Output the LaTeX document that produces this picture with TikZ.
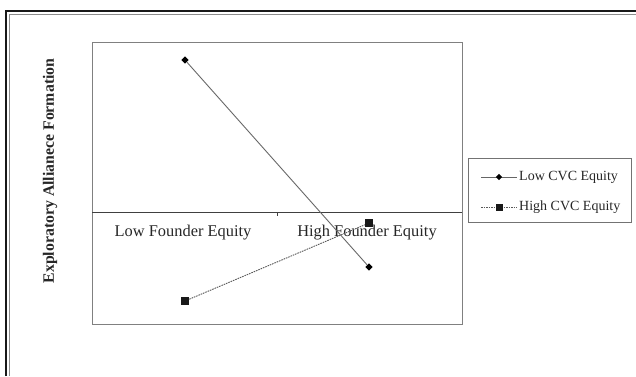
\documentclass[tikz,border=0pt]{standalone}
\usepackage{fontspec}
\setmainfont{Liberation Serif}
\usetikzlibrary{shapes.geometric}
\begin{document}
\begin{tikzpicture}[x=1pt,y=-1pt,
  dia/.style={diamond,fill=black,inner sep=0pt,minimum size=7.5pt},
  sq/.style={rectangle,fill=black!90,inner sep=0pt,minimum size=8pt},
  axlab/.style={font=\fontsize{16.4}{18}\selectfont,text=black!85,inner sep=0pt},
  leglab/.style={font=\fontsize{14}{16}\selectfont,text=black!85,inner sep=0pt,anchor=west},
  lowline/.style={draw=black!60,line width=0.9pt},
  highline/.style={draw=black!65,line width=0.9pt,dash pattern=on 1.6pt off 0.9pt}]
\useasboundingbox (0,0) rectangle (636,376);
% outer frame
\draw[line width=2.6pt,black!90] (6,376) -- (6,11) -- (636,11);
\draw[line width=0.9pt,black!45] (9.5,376) -- (9.5,14.5) -- (636,14.5);
% plot box
\draw[black!50,line width=0.9pt] (92,42) rectangle (462,324);
% axis
\draw[black!75,line width=0.9pt] (92,212) -- (462,212);
\draw[black!75,line width=0.8pt] (277,212) -- (277,216);
% axis labels
\node[axlab] (lfe) at (183,233) {Low Founder Equity};
\node[axlab] (hfe) at (367,233) {High Founder Equity};
% y label
\node[rotate=90,font=\bfseries\fontsize{15.8}{18}\selectfont,text=black!85,inner sep=0pt] (ylab) at (50,171) {Exploratory Allianece Formation};
% data
\node[dia] (l1) at (185,60) {};
\node[dia] (l2) at (369,267) {};
\node[sq] (h1) at (185,301) {};
\node[sq] (h2) at (369,223) {};
\draw[lowline] (l1) -- (l2);
\draw[highline] (h1) -- (h2);
% legend
\draw[black!55,line width=0.9pt] (468,158) rectangle (631,222);
\coordinate (a1) at (481,177);
\coordinate (b1) at (517,177);
\coordinate (a2) at (481,207);
\coordinate (b2) at (517,207);
\draw[lowline] (a1) -- (b1);
\draw[highline] (a2) -- (b2);
\node[dia,minimum size=6.5pt] (ld) at (499,177) {};
\node[sq,minimum size=7pt] (hd) at (499,207) {};
\node[leglab] (lt) at (519,177) {Low CVC Equity};
\node[leglab] (ht) at (519,207) {High CVC Equity};
\end{tikzpicture}
\end{document}
